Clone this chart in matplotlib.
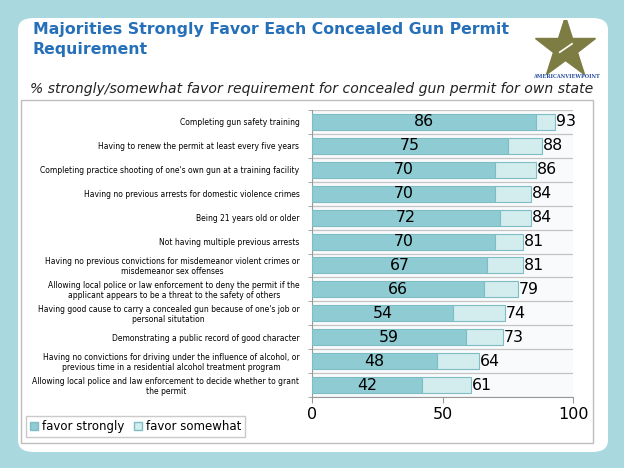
import matplotlib
matplotlib.use("Agg")
import matplotlib.pyplot as plt
from matplotlib.patches import FancyBboxPatch, Rectangle, Patch
import numpy as np

plt.rcParams["font.family"] = "DejaVu Sans"

# Requirements, top to bottom as shown
categories = [
    "Completing gun safety training",
    "Having to renew the permit at least every five years",
    "Completing practice shooting of one's own gun at a training facility",
    "Having no previous arrests for domestic violence crimes",
    "Being 21 years old or older",
    "Not having multiple previous arrests",
    "Having no previous convictions for misdemeanor violent crimes or\nmisdemeanor sex offenses",
    "Allowing local police or law enforcement to deny the permit if the\napplicant appears to be a threat to the safety of others",
    "Having good cause to carry a concealed gun because of one's job or\npersonal situtation",
    "Demonstrating a public record of good character",
    "Having no convictions for driving under the influence of alcohol, or\nprevious time in a residential alcohol treatment program",
    "Allowing local police and law enforcement to decide whether to grant\nthe permit",
]
strongly = [86, 75, 70, 70, 72, 70, 67, 66, 54, 59, 48, 42]
total_favor = [93, 88, 86, 84, 84, 81, 81, 79, 74, 73, 64, 61]
x_ticks = [0, 50, 100]

BG = "#a9d9de"
DARK = "#8fcbd2"
LIGHT = "#d3ecee"
EDGE = "#7fbdc5"
TITLE_BLUE = "#2570b8"

W, H = 624, 468
fig = plt.figure(figsize=(W / 100, H / 100), dpi=100, facecolor=BG)


def fx(px):
    return px / W


def fy(py):
    return 1 - py / H


# white rounded panel
panel = FancyBboxPatch((fx(18), fy(452)), fx(590), 434 / H,
                       boxstyle="round,pad=0,rounding_size=0.025",
                       transform=fig.transFigure, facecolor="white",
                       edgecolor="none", zorder=-3)
fig.patches.append(panel)

# inner chart border
box = Rectangle((fx(21), fy(443)), fx(572), 343 / H,
                transform=fig.transFigure, facecolor="white",
                edgecolor="#bdbdbd", linewidth=1.0, zorder=-2)
fig.patches.append(box)

fig.text(fx(33), fy(22), "Majorities Strongly Favor Each Concealed Gun Permit\nRequirement",
         ha="left", va="top", fontsize=11.3, fontweight="bold", color=TITLE_BLUE,
         linespacing=1.45)
fig.text(fx(30), fy(89), "% strongly/somewhat favor requirement for concealed gun permit for own state",
         ha="left", va="center", fontsize=10.1, style="italic", color="#222222")

# logo
lax = fig.add_axes([fx(530), fy(76), fx(70), 56 / H])
lax.set_xlim(-1, 1)
lax.set_ylim(-1, 1)
lax.axis("off")
lax.plot([0], [0.0], marker="*", ms=46, color="#7d7c42", mec="#7d7c42")
lax.plot([-0.15, 0.2], [-0.15, 0.15], color="white", lw=1.2)
fig.text(fx(566), fy(77), "AMERICANVIEWPOINT", ha="center", va="center",
         fontsize=3.6, color="#2a4fa0", fontweight="bold", family="DejaVu Serif")

# main axes
ax = fig.add_axes([fx(312), fy(397), fx(261), 287 / H])
ax.set_facecolor("#f8fafb")
y = np.arange(len(categories))
somewhat = [t - s for t, s in zip(total_favor, strongly)]
ax.barh(y, strongly, height=0.67, color=DARK, edgecolor=EDGE, linewidth=0.8, zorder=3)
ax.barh(y, somewhat, left=strongly, height=0.67, color=LIGHT, edgecolor=EDGE,
        linewidth=0.8, zorder=3)

for yi, s, t in zip(y, strongly, total_favor):
    ax.text(s / 2, yi, str(s), ha="center", va="center", fontsize=11.3, color="black", zorder=4)
    ax.text(t + 0.3, yi, str(t), ha="left", va="center", fontsize=11.3, color="black", zorder=4)

for b in np.arange(-0.5, len(categories), 1.0):
    ax.axhline(b, color="#c4c4c4", lw=0.9, zorder=1)

ax.set_xlim(0, 100)
ax.set_ylim(len(categories) - 0.5, -0.5)
ax.set_xticks(x_ticks)
ax.set_xticklabels([str(v) for v in x_ticks], fontsize=11.5)
ax.set_yticks(y)
ax.set_yticklabels(categories, fontsize=5.5, multialignment="center", linespacing=1.1)
ax.set_yticks(np.arange(-0.5, len(categories), 1.0), minor=True)
ax.tick_params(axis="y", which="major", length=0, pad=9)
ax.tick_params(axis="y", which="minor", length=3, color="#999999")
ax.tick_params(axis="x", length=4, color="#999999", pad=3)
for side in ["top", "right"]:
    ax.spines[side].set_visible(False)
for side in ["left", "bottom"]:
    ax.spines[side].set_color("#999999")

# legend
handles = [Patch(facecolor=DARK, edgecolor=EDGE, label="favor strongly"),
           Patch(facecolor=LIGHT, edgecolor=EDGE, label="favor somewhat")]
fig.legend(handles=handles, loc="lower left", bbox_to_anchor=(fx(26), fy(437)),
           ncol=2, fontsize=8.5, frameon=True, fancybox=False, edgecolor="#bdbdbd",
           handlelength=0.7, handleheight=0.7, handletextpad=0.3, columnspacing=0.8,
           borderpad=0.35, borderaxespad=0)

fig.savefig("out.png", dpi=100, facecolor=BG)
